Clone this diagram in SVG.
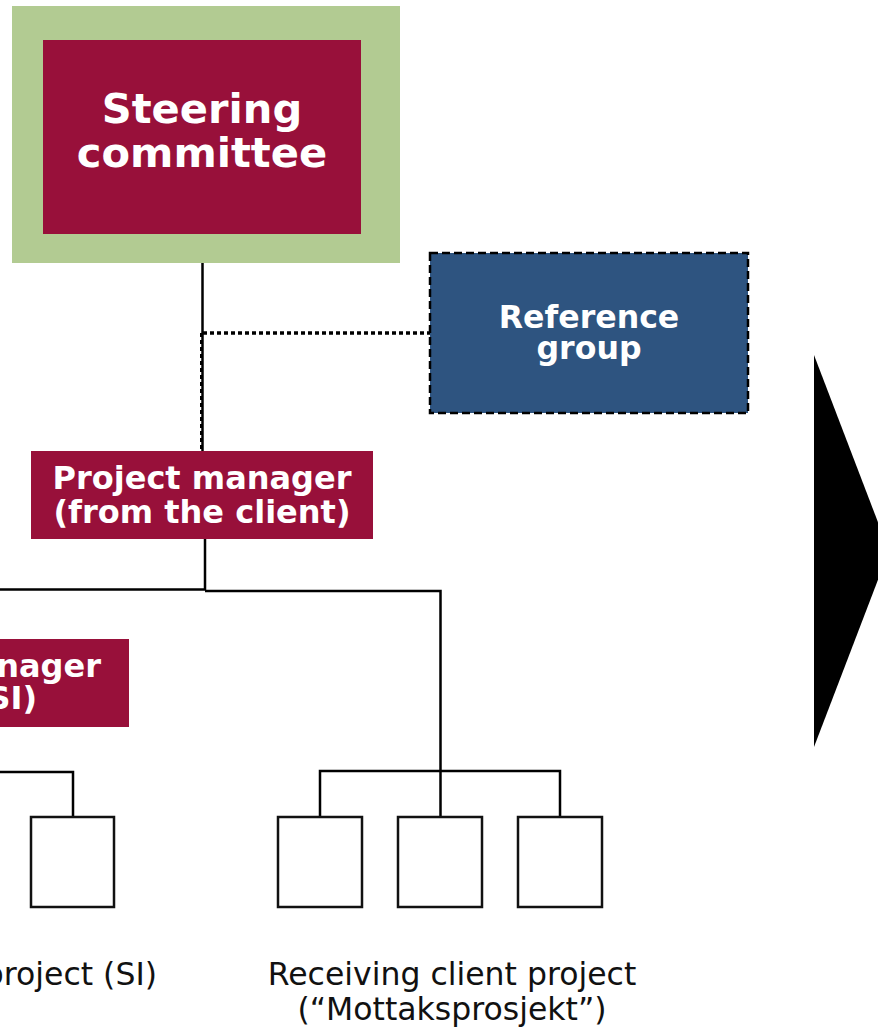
<svg xmlns="http://www.w3.org/2000/svg" width="878" height="1027" viewBox="0 0 878 1027">
<style>
.red{fill:#98103A}
.bt{font-family:"DejaVu Sans","Verdana",sans-serif;font-weight:bold;fill:#ffffff}
.rt{font-family:"DejaVu Sans","Verdana",sans-serif;fill:#111111;font-size:31.5px}
.ln{stroke:#000;stroke-width:2.5;fill:none}
.sb{fill:#ffffff;stroke:#111;stroke-width:2.5}
</style>
<rect width="878" height="1027" fill="#ffffff"/>
<g id="connectors">
<line class="ln" x1="202.5" y1="234" x2="202.5" y2="451"/>
<line x1="201.5" y1="333" x2="201.5" y2="451" stroke="#000" stroke-width="3" stroke-dasharray="4 3"/>
<line x1="203" y1="333" x2="430" y2="333" stroke="#000" stroke-width="3.5" stroke-dasharray="4 3"/>
<polyline class="ln" points="205,539 205,589.5 0,589.5"/>
<polyline class="ln" points="205,591 440.5,591 440.5,817"/>
<polyline class="ln" points="320,817 320,771 560,771 560,817"/>
<polyline class="ln" points="0,772 73,772 73,817"/>
</g>
<g id="steering">
<rect x="12" y="6" width="388" height="257" fill="#B2CB92"/>
<rect class="red" x="43" y="40" width="318" height="194"/>
<text class="bt" font-size="41.6" text-anchor="middle"><tspan x="202" y="123">Steering</tspan><tspan x="202" y="167">committee</tspan></text>
</g>
<g id="reference">
<rect x="430" y="253" width="318" height="160" fill="#2E5480" stroke="#000" stroke-width="2.5" stroke-dasharray="8 4"/>
<text class="bt" font-size="31.6" text-anchor="middle"><tspan x="589" y="328">Reference</tspan><tspan x="589" y="359">group</tspan></text>
</g>
<g id="pm-client">
<rect class="red" x="31" y="451" width="342" height="88"/>
<text class="bt" font-size="32" text-anchor="middle"><tspan x="202" y="489">Project manager</tspan><tspan x="202" y="523">(from the client)</tspan></text>
</g>
<g id="pm-si">
<rect class="red" x="-40" y="639" width="169" height="88"/>
<text class="bt" font-size="32" text-anchor="end"><tspan x="101" y="677">Project manager</tspan><tspan x="37" y="709">(SI)</tspan></text>
</g>
<g id="si-box"><rect class="sb" x="31" y="817" width="83" height="90"/></g>
<g id="rc-box1"><rect class="sb" x="278" y="817" width="84" height="90"/></g>
<g id="rc-box2"><rect class="sb" x="398" y="817" width="84" height="90"/></g>
<g id="rc-box3"><rect class="sb" x="518" y="817" width="84" height="90"/></g>
<g id="si-label"><text class="rt" text-anchor="end" x="157" y="985">project (SI)</text></g>
<g id="rc-label"><text class="rt" text-anchor="middle"><tspan x="452" y="985">Receiving client project</tspan><tspan x="452" y="1020">(“Mottaksprosjekt”)</tspan></text></g>
<g id="arrow"><polygon points="814,355 889,551 814,747" fill="#000"/></g>
</svg>
